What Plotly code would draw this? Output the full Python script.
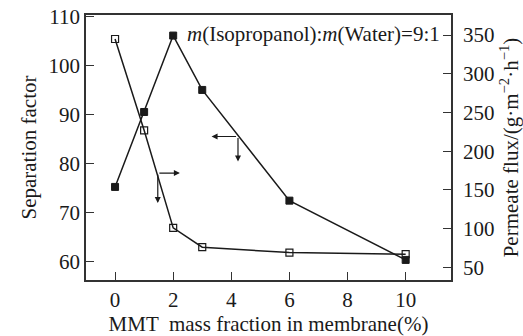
import plotly.graph_objects as go

mmt = [0, 1, 2, 3, 6, 10]
separation_factor = [75.3, 90.6, 106.2, 95.1, 72.5, 60.4]
permeate_flux = [345, 227, 101, 76, 69, 67]

x_ticks = [0, 2, 4, 6, 8, 10]
left_ticks = [60, 70, 80, 90, 100, 110]
right_ticks = [50, 100, 150, 200, 250, 300, 350]

FONT = "'Liberation Serif', 'Times New Roman', serif"
INK = "#1a1a1a"

fig = go.Figure()
fig.add_trace(go.Scatter(
    x=mmt, y=separation_factor, mode="lines+markers",
    line=dict(color=INK, width=1.5),
    marker=dict(symbol="square", size=7, color=INK, line=dict(color=INK, width=1)),
    showlegend=False, yaxis="y"))
fig.add_trace(go.Scatter(
    x=mmt, y=permeate_flux, mode="lines+markers",
    line=dict(color=INK, width=1.5),
    marker=dict(symbol="square-open", size=7, color=INK, line=dict(color=INK, width=1.2)),
    showlegend=False, yaxis="y2"))

axis_common = dict(showline=True, linecolor="#333", linewidth=1.5, ticks="inside",
                   ticklen=8, tickwidth=1.2, tickcolor="#333", showgrid=False, zeroline=False,
                   automargin=False,
                   tickfont=dict(family=FONT, size=21, color=INK))

fig.update_layout(
    width=523, height=336,
    margin=dict(l=86, r=72, t=15, b=56),
    plot_bgcolor="white", paper_bgcolor="white",
    font=dict(family=FONT, size=21, color=INK),
    xaxis=dict(range=[-1.0, 11.56], tickvals=x_ticks, mirror=True,
               title=dict(text="MMT  mass fraction in membrane(%)", font=dict(family=FONT, size=21), standoff=2),
               **axis_common),
    yaxis=dict(range=[56.3, 110.4], tickvals=left_ticks, ticklabelstandoff=0,
               title=dict(text="Separation factor", font=dict(family=FONT, size=21), standoff=6),
               **axis_common),
    yaxis2=dict(range=[33.6, 376], tickvals=right_ticks, overlaying="y", side="right",
                ticklabelstandoff=6,
                title=dict(text="Permeate flux/(g·m<sup>−2</sup>·h<sup>−1</sup>)", font=dict(family=FONT, size=21), standoff=14),
                **axis_common),
)

arrow = dict(showarrow=True, arrowhead=2, arrowsize=1, arrowwidth=1.2, arrowcolor=INK, text="")
annotations = [
    dict(x=2.23, y=171.8, xref="x", yref="y2", ax=-22, ay=0, **arrow),
    dict(x=1.47, y=133, xref="x", yref="y2", ax=0, ay=-30, **arrow),
    dict(x=3.32, y=85.6, xref="x", yref="y", ax=26, ay=0, **arrow),
    dict(x=4.23, y=80.5, xref="x", yref="y", ax=0, ay=-25, **arrow),
    dict(x=2.40, y=106.5, xref="x", yref="y", xanchor="left", yanchor="middle", showarrow=False,
         text="<i>m</i>(Isopropanol):<i>m</i>(Water)=9:1", font=dict(family=FONT, size=21, color=INK)),
]
fig.update_layout(annotations=annotations)

fig.write_html("out.html")
